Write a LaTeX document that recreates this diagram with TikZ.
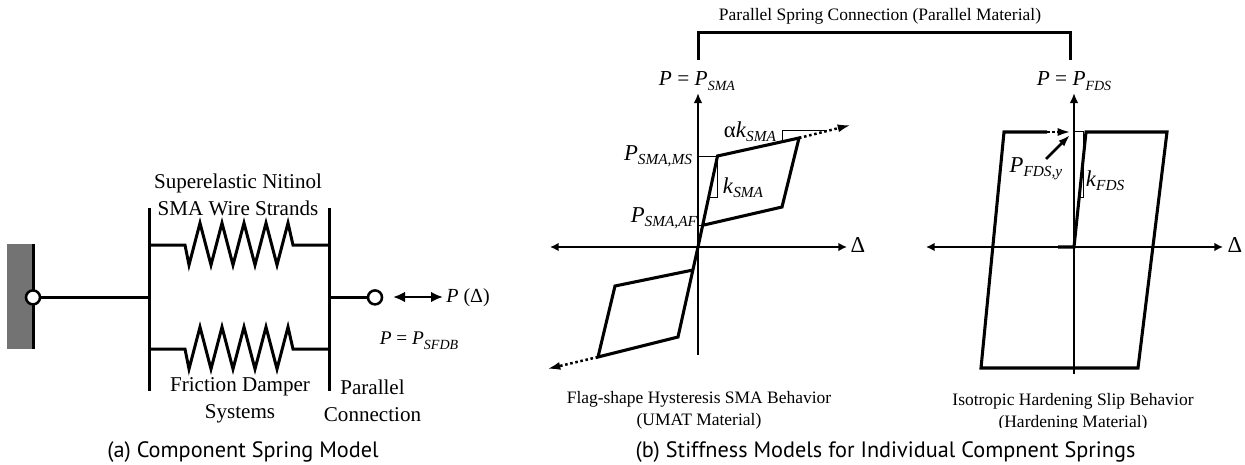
\documentclass[tikz,border=0pt]{standalone}
\usepackage{fontspec}
\setmainfont{Liberation Serif}
\setsansfont{PT Sans}
\usetikzlibrary{arrows.meta,positioning}
\tikzstyle{wire} = [line width=2.25pt]
\tikzstyle{curve} = [line width=2.3pt, line join=miter]
\tikzstyle{axis} = [line width=1.8pt, {Latex[length=6.5pt,width=6.5pt]}-{Latex[length=6.5pt,width=6.5pt]}]
\tikzstyle{upaxis} = [line width=1.8pt, -{Latex[length=7.5pt,width=6.5pt]}]
\tikzstyle{slope} = [line width=0.7pt]
\tikzstyle{ray} = [line width=1.9pt, dotted, -{Latex[length=10pt,width=6pt]}]
\tikzstyle{hinge} = [circle, draw, line width=1.9pt, fill=white, inner sep=0pt, minimum size=10.5pt]
\tikzstyle{big} = [inner sep=0pt, align=center, font=\fontsize{15.8}{20}\selectfont]
\tikzstyle{small} = [inner sep=0pt, align=center, font=\fontsize{13.1}{16.5}\selectfont]
\tikzstyle{load} = [inner sep=0pt, font=\fontsize{16}{18}\selectfont]
\tikzstyle{symb} = [inner sep=0pt, font=\fontsize{17}{18}\selectfont]
\tikzstyle{caption} = [inner sep=0pt, font=\sffamily\fontsize{16.7}{18}\selectfont]
\newcommand{\springzig}{-- ++(4,20) -- ++(11,-42) -- ++(11,42) -- ++(11,-42) -- ++(11,42) -- ++(11,-42) -- ++(11,42) -- ++(11,-42) -- ++(11,42) -- ++(11,-42) -- ++(5,22)}
\newcommand{\Pval}[1]{\textit{P} = \textit{P}\raisebox{-3.5pt}{\fontsize{10.5}{10.5}\selectfont\textit{#1}}}
\newcommand{\Sym}[2]{\textit{#1}\raisebox{-3pt}{\fontsize{11.5}{11.5}\selectfont\textit{#2}}}
\begin{document}
\begin{tikzpicture}[x=0.75pt,y=-0.75pt]
    \useasboundingbox (0,0) rectangle (1245,464);

    % component spring model
    \node [rectangle, fill=black!55, minimum width=19.5pt, minimum height=78.75pt, inner sep=0pt] (wall) at (20,296.5) {};
    \draw [wire] (wall.north east) -- (wall.south east);
    \coordinate (leftup) at (149.5,208);
    \coordinate (leftdown) at (149.5,391);
    \coordinate (rightup) at (329.5,208);
    \coordinate (rightdown) at (329.5,391);
    \coordinate (topin) at (149.5,245);
    \coordinate (topout) at (329.5,245);
    \coordinate (botin) at (149.5,349);
    \coordinate (botout) at (329.5,349);
    \coordinate (barin) at (149.5,297.4);
    \coordinate (barout) at (329.5,297.4);
    \draw [wire] (leftup) -- (leftdown);
    \draw [wire] (rightup) -- (rightdown);
    \draw [wire] (topin) -- ++(35.5,0) \springzig -- (topout);
    \draw [wire] (botin) -- ++(35.5,0) \springzig -- (botout);
    \node [hinge] (fixed) at (33,297.4) {};
    \node [hinge] (free) at (375,297.4) {};
    \draw [wire] (fixed) -- (barin);
    \draw [wire] (barout) -- (free);
    \coordinate (loadl) at (393,297);
    \coordinate (loadr) at (443,297);
    \draw [line width=1.9pt, {Latex[length=9pt,width=8pt]}-{Latex[length=9pt,width=8pt]}] (loadl) -- (loadr);

    \node [load, font=\fontsize{15}{18}\selectfont] (ploadtext) at (468,298) {\textit{P} (Δ)};
    \node [load, font=\fontsize{14.5}{18}\selectfont] (sfdb) at (419,341) {\Pval{SFDB}};
    \node [big] (sma) at (238,195) {Superelastic Nitinol\\SMA Wire Strands};
    \node [big] (friction) at (240,400) {Friction Damper\\Systems};
    \node [big] (parallel) at (372.5,401) {Parallel\\Connection};
    \node [caption] (capa) at (243,452) {(a) Component Spring Model};

    % bracket on top
    \coordinate (brl) at (698.5,60);
    \coordinate (brr) at (1070.5,60);
    \draw [wire] (brl) |- (884,32.5) -| (brr);
    \node [small] (top) at (880,16) {Parallel Spring Connection (Parallel Material)};

    % flag-shape graph
    \coordinate (oa) at (698,247);
    \coordinate (ms) at (717.5,156);
    \coordinate (ua) at (799,138);
    \coordinate (ub) at (782,207);
    \coordinate (af) at (704,225);
    \coordinate (la) at (693,270);
    \coordinate (lb) at (615,286);
    \coordinate (lc) at (598,357);
    \coordinate (ld) at (678,337);
    \coordinate (rayup) at (851,125);
    \coordinate (raydown) at (547,369);
    \draw [axis] (550,247) -- (847,247);
    \draw [upaxis] (698,355) -- (698,93);
    \draw [curve] (oa) -- (ms) -- (ua) -- (ub) -- (af);
    \draw [curve] (oa) -- (ld) -- (lc) -- (lb) -- (la);
    \draw [ray] (ua) -- (rayup);
    \draw [ray] (lc) -- (raydown);
    \draw [slope] (oa |- ms) -- (ms) -- (717.5,197) -- (710,197);
    \draw [slope] (oa |- af) -- (af);
    \draw [slope] (782,141) -- (782,130) -- (827,130);

    \node [load] (psma) at (697,81) {\Pval{SMA}};
    \node [symb] (pms) at (658,156) {\Sym{P}{SMA,MS}};
    \node [symb] (paf) at (664,218) {\Sym{P}{SMA,AF}};
    \node [symb] (ak) at (750,132) {α\Sym{k}{SMA}};
    \node [symb] (ksma) at (743,188) {\Sym{k}{SMA}};
    \node [symb] (dl) at (858,245) {Δ};
    \node [small] (flag) at (699,410) {Flag-shape Hysteresis SMA Behavior\\(UMAT Material)};

    % slip graph
    \coordinate (sa) at (1004,132);
    \coordinate (sb) at (981,368);
    \coordinate (sc) at (1138,368);
    \coordinate (sd) at (1167,132);
    \coordinate (se) at (1086,132);
    \coordinate (so) at (1074,247);
    \coordinate (sf) at (1058,247);
    \coordinate (sg) at (1047,132);
    \coordinate (sh) at (1071,132);
    \draw [axis] (926,247) -- (1223,247);
    \draw [upaxis] (1074,374) -- (1074,93);
    \draw [curve] (sg) -- (sa) -- (sb) -- (sc) -- (sd) -- (se) -- (so) -- (sf);
    \draw [ray] (sg) -- (sh);
    \draw [slope] (1074,131) -- (1083.5,131) -- (1083.5,197) -- (1079,197);
    \coordinate (yieldtail) at (1046,159);
    \coordinate (yieldhead) at (1070,135);
    \draw [line width=1.9pt, -{Latex[length=9pt,width=6pt]}] (yieldtail) -- (yieldhead);

    \node [load] (pfds) at (1074,81) {\Pval{FDS}};
    \node [symb] (py) at (1036,169) {\Sym{P}{FDS,y}};
    \node [symb] (kfds) at (1105,181) {\Sym{k}{FDS}};
    \node [symb] (dr) at (1235,245) {Δ};
    \begin{scope}
        \clip (900,390) rectangle (1245,427);
        \node [small] (slip) at (1073,412) {Isotropic Hardening Slip Behavior\\(Hardening Material)};
    \end{scope}
    \node [caption] (capb) at (885.5,452) {(b) Stiffness Models for Individual Compnent Springs};
\end{tikzpicture}
\end{document}
